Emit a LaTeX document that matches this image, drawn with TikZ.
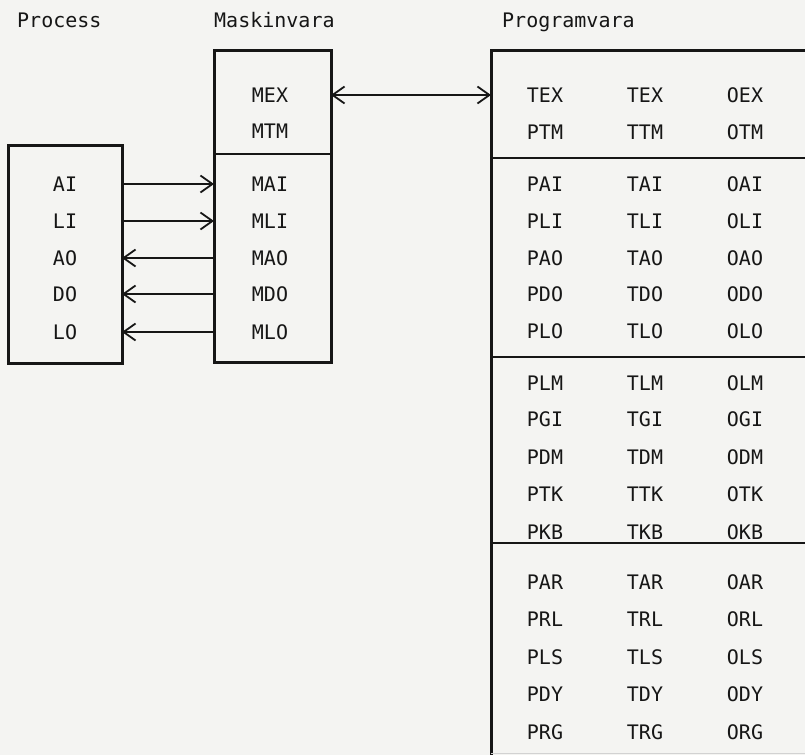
\documentclass[tikz,border=0pt]{standalone}
\usepackage{fontspec}
\setmonofont{DejaVu Sans Mono}
\usetikzlibrary{arrows.meta,positioning,calc}
\definecolor{ink}{HTML}{161616}
\definecolor{paper}{HTML}{F4F4F2}

\begin{document}
\begin{tikzpicture}[
  x=1pt, y=-1pt,
  lbl/.style={font=\ttfamily\fontsize{20}{24}\selectfont, text=ink, inner sep=0pt},
  box/.style={draw=ink, line width=3pt, inner sep=0pt, outer sep=0pt},
  divider/.style={draw=ink, line width=2pt},
  sig/.style={draw=ink, line width=1.4pt},
  >={Straight Barb[length=12pt,width=17pt,line width=1.8pt]}
]
  \fill[paper] (0,0) rectangle (805,755);
  \useasboundingbox (0,0) rectangle (805,755);

  \node[lbl, anchor=base west] (process) at (17,27) {Process};
  \node[lbl, anchor=base west] (maskinvara) at (214,27) {Maskinvara};
  \node[lbl, anchor=base west] (programvara) at (502,27) {Programvara};

  \node[box, minimum width=114pt, minimum height=218pt] (proc) at (65,254) {};
  \node[box, minimum width=117pt, minimum height=312pt] (mask) at (272.5,206) {};
  \coordinate (divM) at (0,154);
  \draw[divider] (mask.west |- divM) -- (mask.east |- divM);

  \node[lbl] (mex) at (270,95) {MEX};
  \node[lbl] (mtm) at (270,131) {MTM};
  \foreach \y/\a/\b [count=\i] in {184/AI/MAI, 221/LI/MLI, 258/AO/MAO, 294/DO/MDO, 332/LO/MLO} {
    \node[lbl] (in\i) at (65,\y) {\a};
    \node[lbl] (m\i) at (270,\y) {\b};
  }

  \draw[sig,->] (proc.east |- in1) -- (mask.west |- m1);
  \draw[sig,->] (proc.east |- in2) -- (mask.west |- m2);
  \foreach \i in {3,4,5}
    \draw[sig,<-] (proc.east |- in\i) -- (mask.west |- m\i);

  \coordinate (prog) at (491,50);
  \coordinate (progend) at (805,755);
  \draw[box] (805,50) -- (prog) -- (prog |- progend);
  \foreach \d in {158,357,543}
    \draw[divider] (491,\d) -- (805,\d);
  \draw[gray!35, line width=1pt] (491,753) -- (805,753);

  \draw[sig,<->] (mask.east |- mex) -- (prog |- mex);

  \foreach \y/\a/\b/\c [count=\i] in {95/TEX/TEX/OEX, 132/PTM/TTM/OTM,
      184/PAI/TAI/OAI, 221/PLI/TLI/OLI, 258/PAO/TAO/OAO, 294/PDO/TDO/ODO, 331/PLO/TLO/OLO,
      383/PLM/TLM/OLM, 419/PGI/TGI/OGI, 457/PDM/TDM/ODM, 494/PTK/TTK/OTK, 532/PKB/TKB/OKB,
      582/PAR/TAR/OAR, 619/PRL/TRL/ORL, 657/PLS/TLS/OLS, 694/PDY/TDY/ODY, 732/PRG/TRG/ORG} {
    \node[lbl] (p\i) at (545,\y) {\a};
    \node[lbl] (t\i) at (645,\y) {\b};
    \node[lbl] (o\i) at (745,\y) {\c};
  }
\end{tikzpicture}
\end{document}
